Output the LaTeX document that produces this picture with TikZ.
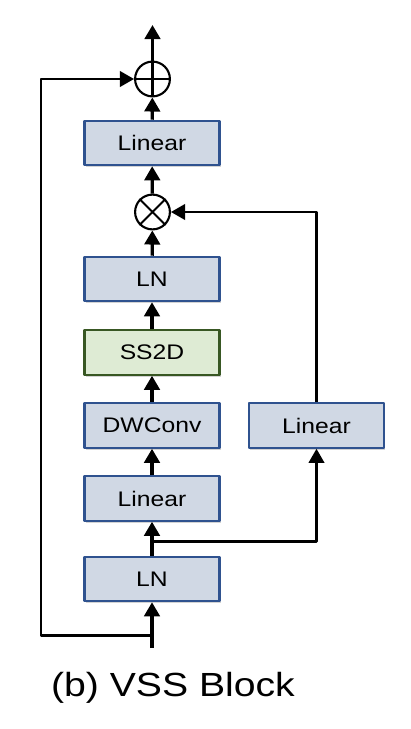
\documentclass[tikz,border=0pt]{standalone}
\usepackage{fontspec}
\setmainfont{Liberation Sans}[FakeStretch=1.17]
\usetikzlibrary{arrows.meta,shadows}
\definecolor{boxfill}{RGB}{208,216,228}
\definecolor{boxline}{RGB}{47,82,143}
\definecolor{ssfill}{RGB}{222,235,212}
\definecolor{ssline}{RGB}{56,87,35}

\begin{document}
\begin{tikzpicture}[x=0.025cm, y=-0.025cm, line join=round,
  layer/.style={draw=boxline, fill=boxfill, line width=1.5pt, minimum width=3.375cm,
    minimum height=1.11cm, inner sep=0pt, font=\fontsize{15}{16}\selectfont,
    drop shadow={opacity=0.35, shadow xshift=1pt, shadow yshift=-1.5pt}},
  ssm/.style={layer, draw=ssline, fill=ssfill},
  op/.style={circle, draw, line width=1.5pt, minimum size=0.87cm, inner sep=0pt},
  flow/.style={line width=2.3pt, -{Triangle[width=11pt,length=10pt]}},
  skip/.style={line width=1.6pt, -{Triangle[width=11pt,length=10pt]}}]
  \useasboundingbox (0,0) rectangle (411,729);

  % main path
  \node[layer] (ln1) at (152,579) {LN};
  \node[layer] (lin1) at (152,498.5) {Linear};
  \node[layer] (dw) at (152,425.5) {DWConv};
  \node[ssm] (ss) at (152,352.5) {SS2D};
  \node[layer] (ln2) at (152,279) {LN};
  \node[op] (mul) at (152.5,212) {};
  \node[layer] (lin3) at (152,143) {Linear};
  \node[op] (add) at (152.5,79) {};
  % gate branch
  \node[layer] (lin2) at (316.5,425.5) {Linear};

  \draw[line width=1.5pt] (add.north) -- (add.south) (add.west) -- (add.east);
  \draw[line width=1.5pt] (mul.north west) -- (mul.south east) (mul.north east) -- (mul.south west);

  \coordinate (in) at (152,648);
  \coordinate (back) at (152,635.5);
  \coordinate (fork) at (152,541.5);
  \coordinate (corner) at (41,79);
  \coordinate (out) at (152.5,25);

  \draw[flow] (in) -- (ln1);
  \foreach \a/\b in {ln1/lin1, lin1/dw, dw/ss, ss/ln2, ln2/mul, mul/lin3, lin3/add, add/out}
    \draw[flow] (\a) -- (\b);
  \draw[skip] (back) -| (corner) -- (add);
  \draw[skip] (fork) -| (lin2);
  \draw[skip] (lin2) |- (mul);

  \node[font=\fontsize{23.8}{28}\selectfont, anchor=base] (cap) at (173,696) {(b) VSS Block};
\end{tikzpicture}
\end{document}
